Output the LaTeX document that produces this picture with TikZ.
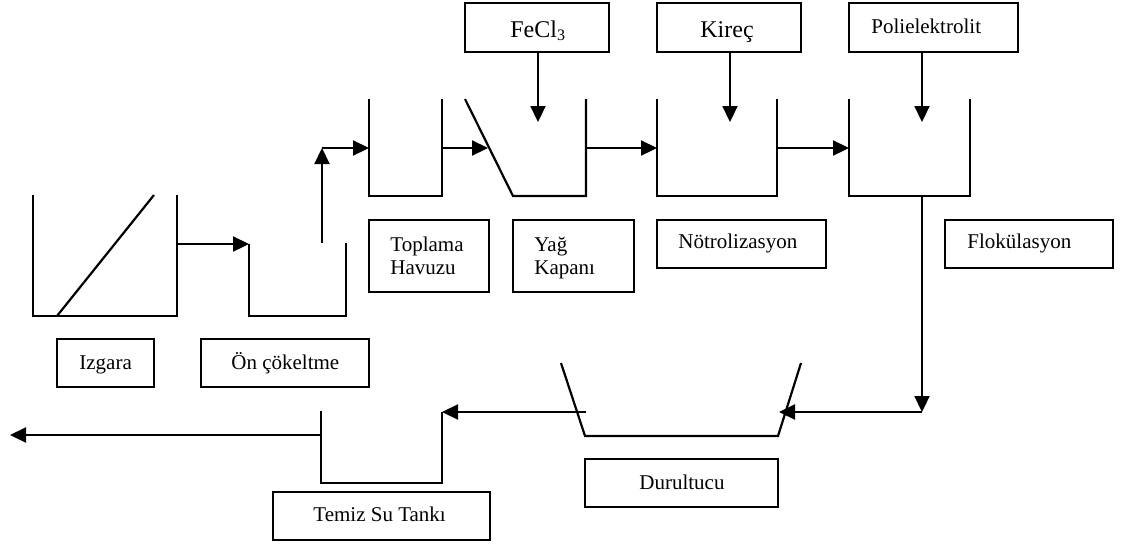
\documentclass[tikz,border=0pt]{standalone}
\usepackage{fontspec}
\setmainfont{Liberation Serif}
\usetikzlibrary{arrows.meta}
\begin{document}
\begin{tikzpicture}[x=0.5pt,y=-0.5pt,
  tank/.style={line width=1.1pt, line join=miter},
  flow/.style={line width=1.1pt, -{Triangle[length=8pt,width=7.5pt]}},
  box/.style={draw, line width=0.75pt, inner sep=0pt, outer sep=0pt, anchor=north west},
  lbl/.style={inner sep=0pt, anchor=base west, font=\fontsize{10.5}{11.5}\selectfont, align=left},
  big/.style={lbl, font=\fontsize{12}{14}\selectfont}]
\useasboundingbox (0,0) rectangle (1125,547);

% ---- label boxes
\node[box, minimum width=72pt,   minimum height=24.5pt] (fecl)  at (465,3)   {};
\node[box, minimum width=72pt,   minimum height=24.5pt] (kirec) at (657,3)   {};
\node[box, minimum width=84.5pt, minimum height=24.5pt] (poli)  at (849,3)   {};
\node[box, minimum width=60pt,   minimum height=36pt]   (btop)  at (369,220) {};
\node[box, minimum width=60.5pt, minimum height=36pt]   (byag)  at (513,220) {};
\node[box, minimum width=84.5pt, minimum height=24pt]   (bnot)  at (657,220) {};
\node[box, minimum width=84pt,   minimum height=24pt]   (bflo)  at (945,220) {};
\node[box, minimum width=48.5pt, minimum height=24pt]   (bizg)  at (57,339)  {};
\node[box, minimum width=84pt,   minimum height=24pt]   (bon)   at (201,339) {};
\node[box, minimum width=96.5pt, minimum height=24pt]   (bdur)  at (585,459) {};
\node[box, minimum width=108.5pt,minimum height=24pt]   (btem)  at (273,492) {};

% ---- texts
\node[big] (tfecl)  at (510,37)  {FeCl\textsubscript{3}};
\node[big] (tkirec) at (700,37)  {Kireç};
\node[lbl] (tpoli)  at (871,33)  {Polielektrolit};
\node[lbl] (ttop)   at (390,274) {Toplama\\Havuzu};
\node[lbl] (tyag)   at (534,274) {Yağ\\Kapanı};
\node[lbl] (tnot)   at (678,248) {Nötrolizasyon};
\node[lbl] (tflo)   at (967,248) {Flokülasyon};
\node[lbl] (tizg)   at (79,369)  {Izgara};
\node[lbl] (ton)    at (231,369) {Ön çökeltme};
\node[lbl] (tdur)   at (639,489) {Durultucu};
\node[lbl] (ttem)   at (313,521) {Temiz Su Tankı};

% ---- tanks
\draw[tank] (33,195) -- (33,316) -- (177,316) -- (177,195);
\draw[tank] (57,316) -- (154,195);
\draw[tank] (249,244) -- (249,316) -- (346,316) -- (346,243);
\draw[tank] (369,99) -- (369,196) -- (442,196) -- (442,99);
\draw[tank] (465,99) -- (513,196) -- (586,196) -- (586,99);
\draw[tank] (657,99) -- (657,196) -- (777,196) -- (777,99);
\draw[tank] (849,99) -- (849,196) -- (970,196) -- (970,99);
\draw[tank] (561,363) -- (585,436) -- (778,436) -- (801,363);
\draw[tank] (321,411) -- (321,483) -- (442,483) -- (442,412);

% ---- connector points
\coordinate (izgOut) at (177,244);
\coordinate (onIn)   at (249,244);
\coordinate (onUp)   at (322,243);
\coordinate (bend)   at (322,148);
\coordinate (topIn)  at (369,148);
\coordinate (topOut) at (442,148);
\coordinate (yagIn)  at (488,148);
\coordinate (yagOut) at (586,148);
\coordinate (notIn)  at (657,148);
\coordinate (notOut) at (777,148);
\coordinate (floIn)  at (849,148);
\coordinate (yagDose) at (538,122);
\coordinate (notDose) at (730,122);
\coordinate (floDose) at (922,122);
\coordinate (floOut) at (922,196);
\coordinate (corner) at (922,412);
\coordinate (durIn)  at (779,412);
\coordinate (durOut) at (586,412);
\coordinate (temIn)  at (442,412);
\coordinate (temOut) at (321,435);
\coordinate (exit)   at (10,435);

% ---- connectors
\draw[flow] (izgOut) -- (onIn);
\draw[flow] (onUp) -- (bend);
\draw[flow] (bend) -- (topIn);
\draw[flow] (topOut) -- (yagIn);
\draw[flow] (yagOut) -- (notIn);
\draw[flow] (notOut) -- (floIn);
\draw[flow] (fecl.south -| yagDose) -- (yagDose);
\draw[flow] (kirec.south -| notDose) -- (notDose);
\draw[flow] (poli.south -| floDose) -- (floDose);
\draw[flow] (floOut) -- (corner);
\draw[flow] (corner) -- (durIn);
\draw[flow] (durOut) -- (temIn);
\draw[flow] (temOut) -- (exit);
\end{tikzpicture}
\end{document}
